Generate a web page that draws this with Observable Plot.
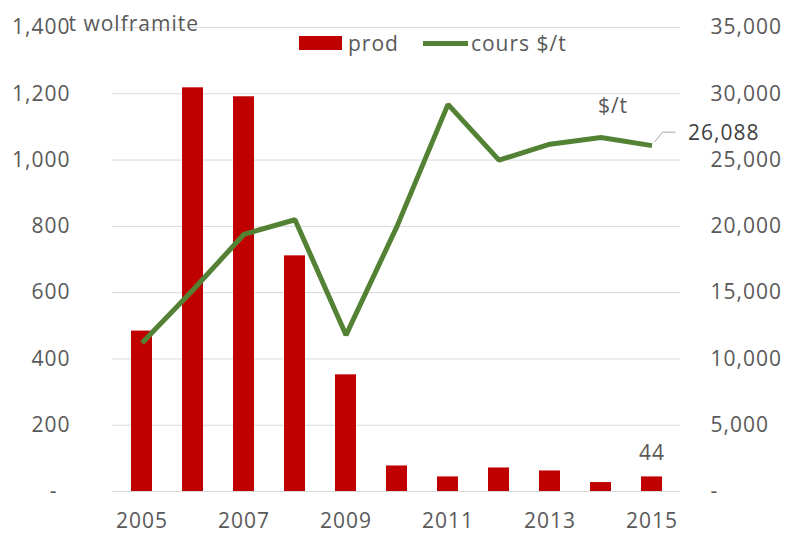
<!DOCTYPE html>
<html><head><meta charset="utf-8">
<script src="https://cdn.jsdelivr.net/npm/d3@7"></script>
<script src="https://cdn.jsdelivr.net/npm/@observablehq/plot@0.6"></script>
<style>
body{margin:0;background:#fff;}
#wrap{position:relative;width:789px;height:533px;font-family:"Open Sans",sans-serif;color:#595959;}
.leg{position:absolute;top:29px;font-size:21px;letter-spacing:1px;display:flex;align-items:center;line-height:28px;}
.sw{display:inline-block;margin-right:6px;}
</style></head><body><div id="wrap"></div>
<script>
const years = ["2005","2006","2007","2008","2009","2010","2011","2012","2013","2014","2015"];
const prod = [484, 1218, 1191, 711, 352, 77, 44, 71, 62, 27, 44];
const price = [11200, 15200, 19400, 20500, 11800, 20000, 29200, 25000, 26200, 26700, 26088];
const leftTicks = [0, 200, 400, 600, 800, 1000, 1200, 1400];
const rightTicks = [0, 5000, 10000, 15000, 20000, 25000, 30000, 35000];
const xTicks = ["2005","2007","2009","2011","2013","2015"];
const unitLabel = "t wolframite";
const priceLabel = "$/t";
const ratio = 35000 / 1400;

const data = years.map((y, i) => ({year: y, prod: prod[i], price: price[i], scaled: price[i] / ratio}));
const last = data[data.length - 1];
const fmt = d3.format(",");
const txt = "#595959";

const chart = Plot.plot({
  width: 789, height: 533,
  marginLeft: 112, marginRight: 109, marginTop: 27, marginBottom: 42,
  style: {fontFamily: "Open Sans, sans-serif", fontSize: "21px", color: txt, background: "#fff", letterSpacing: "1px"},
  x: {type: "band", domain: years, paddingInner: 0.59, paddingOuter: 0.295, label: null},
  y: {domain: [0, 1400], label: null},
  marks: [
    Plot.ruleY(leftTicks, {stroke: "#d9d9d9", strokeWidth: 1}),
    Plot.barY(data, {x: "year", y: "prod", fill: "#c00000"}),
    Plot.line(data, {x: "year", y: "scaled", stroke: "#548235", strokeWidth: 5, strokeLinejoin: "miter", strokeLinecap: "butt"}),
    Plot.axisY(leftTicks.filter(d => d > 0), {anchor: "left", tickSize: 0, tickPadding: 42, textAnchor: "end", fill: txt,
      tickFormat: d => fmt(d)}),
    Plot.axisY([0], {anchor: "left", tickSize: 0, tickPadding: 55, textAnchor: "end", fill: txt, tickFormat: () => "-"}),
    Plot.axisY(rightTicks.map(v => v / ratio), {anchor: "right", tickSize: 0, tickPadding: 30, textAnchor: "start", fill: txt,
      tickFormat: d => d === 0 ? "-" : fmt(d * ratio)}),
    Plot.axisX(xTicks, {anchor: "bottom", tickSize: 0, tickPadding: 22, fill: txt, tickFormat: d => d}),
    Plot.text([leftTicks[leftTicks.length - 1]], {y: d => d, frameAnchor: "left", text: () => unitLabel, textAnchor: "start", dx: -44, dy: -3, fill: txt}),
    Plot.text([last], {x: "year", y: "prod", text: d => String(d.prod), dy: -24, fill: txt}),
    Plot.text([data[9]], {x: "year", y: "scaled", text: () => priceLabel, dx: 12, dy: -31, fill: txt}),
    Plot.text([last], {x: "year", y: "scaled", text: d => fmt(d.price), textAnchor: "start", dx: 36, dy: -12, fill: "#404040"})
  ]
});
const wrap = document.getElementById("wrap");
wrap.appendChild(chart);
const xs = chart.scale("x"), ys = chart.scale("y");
const px = xs.apply(last.year) + xs.bandwidth / 2, py = ys.apply(last.scaled);
const ns = "http://www.w3.org/2000/svg";
const p = document.createElementNS(ns, "path");
p.setAttribute("d", `M${px + 3},${py - 3}L${px + 11},${py - 13}L${px + 24},${py - 13}`);
p.setAttribute("stroke", "#a6a6a6"); p.setAttribute("fill", "none"); p.setAttribute("stroke-width", "1");
chart.appendChild(p);

const leg = document.createElement("div");
leg.className = "leg"; leg.style.left = "299px";
leg.innerHTML = `<span class="sw" style="width:43px;height:14px;background:#c00000"></span><span>prod</span>` +
  `<span class="sw" style="width:45px;height:5px;background:#548235;margin-left:24px;margin-right:3px"></span><span>cours $/t</span>`;
wrap.appendChild(leg);
</script></body></html>
